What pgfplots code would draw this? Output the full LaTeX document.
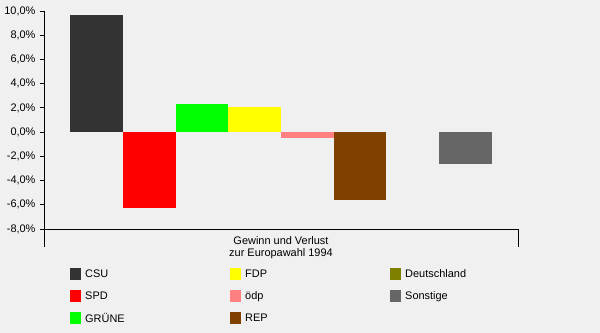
\documentclass[border=0pt]{standalone}
\usepackage{fontspec}
\setmainfont{Liberation Sans}
\usepackage{pgfplots}
\pgfplotsset{compat=1.18}
\definecolor{bgc}{HTML}{F0F0F0}
\definecolor{csu}{HTML}{333333}
\definecolor{spd}{HTML}{FF0000}
\definecolor{gruene}{HTML}{00FF00}
\definecolor{fdp}{HTML}{FFFF00}
\definecolor{oedp}{HTML}{FF8080}
\definecolor{rep}{HTML}{804000}
\definecolor{deu}{HTML}{808000}
\definecolor{sonst}{HTML}{666666}
\newcommand{\lt}[1]{\makebox[141bp][l]{#1}}
\begin{document}
\begin{tikzpicture}
\fill[bgc] (0bp,0bp) rectangle (600bp,-333bp);
\useasboundingbox (0bp,0bp) rectangle (600bp,-333bp);
\begin{axis}[
  at={(44bp,-229bp)}, anchor=south west,
  width=474bp, height=218bp, scale only axis,
  font=\fontsize{11}{12}\selectfont,
  xmin=-4.5, xmax=4.5, ymin=-8, ymax=10,
  axis lines=left, axis line style={-, line width=0.8bp},
  ybar, bar width=1, bar shift=0pt,
  ytick={-8,-6,...,10},
  yticklabel={\pgfmathprintnumber[fixed,fixed zerofill,precision=1,use comma,assume math mode=true]{\tick}\%},
  yticklabel style={xshift=-1bp},
  tick align=outside, major tick length=4bp,
  tick style={black, line width=0.8bp},
  xtick=\empty,
  extra x ticks={-4.5,4.5}, extra x tick labels={},
  extra x tick style={major tick length=18bp, tick align=outside},
  xlabel={Gewinn und Verlust\\zur Europawahl 1994},
  xlabel style={at={(axis description cs:0.5,0)}, anchor=north, yshift=-4bp, align=center},
  legend columns=3,
  legend image code/.code={\fill[#1] (0bp,-6bp) rectangle (11bp,6bp);},
  legend style={at={(26/474,-39/218)}, anchor=north west, draw=none, fill=none,
    inner sep=0pt, column sep=4bp, row sep=10bp,
    nodes={inner sep=0pt, anchor=west}},
]
\addplot[fill=csu, draw=none] coordinates {(-3.5,9.7)};
\addlegendentry{\lt{CSU}}
\addplot[fill=fdp, draw=none] coordinates {(-0.5,2.1)};
\addlegendentry{\lt{FDP}}
\addlegendimage{fill=deu, draw=none}
\addlegendentry{\lt{Deutschland}}
\addplot[fill=spd, draw=none] coordinates {(-2.5,-6.3)};
\addlegendentry{\lt{SPD}}
\addplot[fill=oedp, draw=none] coordinates {(0.5,-0.5)};
\addlegendentry{\lt{ödp}}
\addplot[fill=sonst, draw=none] coordinates {(3.5,-2.6)};
\addlegendentry{\lt{Sonstige}}
\addplot[fill=gruene, draw=none] coordinates {(-1.5,2.3)};
\addlegendentry{\lt{GRÜNE}}
\addplot[fill=rep, draw=none] coordinates {(1.5,-5.6)};
\addlegendentry{\lt{REP}}
\addplot[fill=none, draw=none, forget plot] coordinates {(2.5,0)};
\end{axis}
\end{tikzpicture}
\end{document}
